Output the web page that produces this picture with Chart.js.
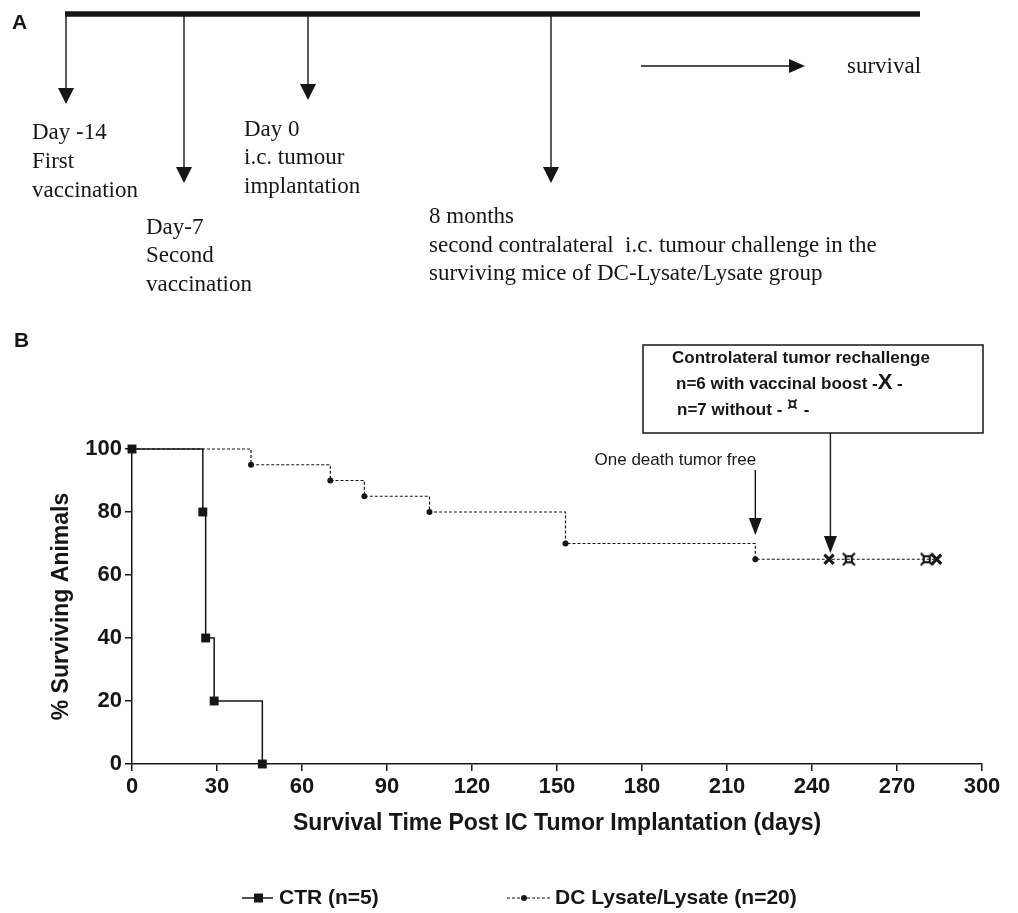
<!DOCTYPE html>
<html lang="en">
<head>
    <meta charset="UTF-8">
    <title>Survival</title>
    <script src="https://cdn.jsdelivr.net/npm/chart.js"></script>
    <style>
        body { margin: 0; background: #fff; }
    </style>
</head>
<body>
    <canvas id="myChart" width="1018" height="913"></canvas>
    <script>
            // Kaplan-Meier data
            const ctrDays = [0, 25, 26, 29, 46];
            const ctrSurv = [100, 80, 40, 20, 0];
            const dcDays = [0, 42, 70, 82, 105, 153, 220, 284];
            const dcSurv = [100, 95, 90, 85, 80, 70, 65, 65];
            const dcRadius = [3, 3, 3, 3, 3, 3, 3, 0];
            const boostDays = [246, 284];
            const boostSurv = [65, 65];
            const noBoostDays = [253, 280.5];
            const noBoostSurv = [65, 65];
            const strayDays = [-2.8];
            const straySurv = [53.4];
            const xTicks = [0, 30, 60, 90, 120, 150, 180, 210, 240, 270, 300];
            const yTicks = [0, 20, 40, 60, 80, 100];
            const deathDay = 220;
            const rechallengeDay = 246.5;

            const ink = '#161616';
            const sans = '"Liberation Sans", Arial, sans-serif';
            const serif = '"Liberation Serif", "Times New Roman", serif';

            function pts(xs, ys) {
                return xs.map((x, i) => ({ x: x, y: ys[i] }));
            }

            // small "¤" shaped marker
            function currencyMark() {
                const c = document.createElement('canvas');
                c.width = 14; c.height = 14;
                const g = c.getContext('2d');
                g.strokeStyle = ink;
                g.lineWidth = 2.2;
                g.strokeRect(4, 4, 6, 6);
                g.beginPath();
                g.moveTo(1, 1); g.lineTo(4, 4);
                g.moveTo(13, 1); g.lineTo(10, 4);
                g.moveTo(1, 13); g.lineTo(4, 10);
                g.moveTo(13, 13); g.lineTo(10, 10);
                g.stroke();
                return c;
            }

            function arrowDown(ctx, x, y0, y1, head, half) {
                ctx.beginPath();
                ctx.moveTo(x, y0);
                ctx.lineTo(x, y1 - head + 1);
                ctx.stroke();
                ctx.beginPath();
                ctx.moveTo(x - half, y1 - head);
                ctx.lineTo(x + half, y1 - head);
                ctx.lineTo(x, y1);
                ctx.closePath();
                ctx.fill();
            }

            const extras = {
                id: 'extras',
                afterDraw(chart) {
                    const ctx = chart.ctx;
                    const xs = chart.scales.x;
                    ctx.save();
                    ctx.fillStyle = ink;
                    ctx.strokeStyle = ink;
                    ctx.textBaseline = 'middle';

                    // ---- panel A : timeline
                    ctx.font = 'bold 21px ' + sans;
                    ctx.fillText('A', 12, 23);
                    ctx.fillText('B', 14, 341);

                    ctx.lineWidth = 5.5;
                    ctx.beginPath();
                    ctx.moveTo(65, 14);
                    ctx.lineTo(920, 14);
                    ctx.stroke();

                    ctx.lineWidth = 1.4;
                    arrowDown(ctx, 66, 14, 104, 16, 8);
                    arrowDown(ctx, 184, 14, 183, 16, 8);
                    arrowDown(ctx, 308, 14, 100, 16, 8);
                    arrowDown(ctx, 551, 14, 183, 16, 8);

                    ctx.beginPath();
                    ctx.moveTo(641, 66);
                    ctx.lineTo(790, 66);
                    ctx.stroke();
                    ctx.beginPath();
                    ctx.moveTo(789, 59);
                    ctx.lineTo(805, 66);
                    ctx.lineTo(789, 73);
                    ctx.closePath();
                    ctx.fill();

                    ctx.font = '23px ' + serif;
                    ctx.fillText('survival', 847, 67);
                    const notes = [
                        [32, 133, 'Day -14'], [32, 162, 'First'], [32, 191, 'vaccination'],
                        [146, 228, 'Day-7'], [146, 256, 'Second'], [146, 285, 'vaccination'],
                        [244, 130, 'Day 0'], [244, 158, 'i.c. tumour'], [244, 187, 'implantation'],
                        [429, 217, '8 months'],
                        [429, 246, 'second contralateral  i.c. tumour challenge in the'],
                        [429, 274, 'surviving mice of DC-Lysate/Lysate group']
                    ];
                    notes.forEach(n => ctx.fillText(n[2], n[0], n[1]));

                    // ---- panel B : annotations
                    const dx = xs.getPixelForValue(deathDay);
                    ctx.lineWidth = 1.4;
                    arrowDown(ctx, dx, 470, 535, 17, 6.5);
                    ctx.font = '17px ' + sans;
                    ctx.textAlign = 'center';
                    ctx.fillText('One death tumor free', dx - 80, 460);

                    ctx.lineWidth = 1.5;
                    ctx.strokeRect(643, 345, 340, 88);
                    const rx = xs.getPixelForValue(rechallengeDay);
                    ctx.lineWidth = 1.4;
                    arrowDown(ctx, rx, 433, 553, 17, 6.5);

                    ctx.textAlign = 'left';
                    ctx.font = 'bold 17px ' + sans;
                    ctx.fillText('Controlateral tumor rechallenge', 672, 358);
                    let t = 'n=6 with vaccinal boost -';
                    ctx.fillText(t, 676, 384);
                    let w = ctx.measureText(t).width;
                    ctx.font = 'bold 22px ' + sans;
                    ctx.fillText('X', 676 + w, 383);
                    let w2 = ctx.measureText('X').width;
                    ctx.font = 'bold 17px ' + sans;
                    ctx.fillText(' -', 676 + w + w2, 384);
                    t = 'n=7 without - ';
                    ctx.fillText(t, 677, 410);
                    w = ctx.measureText(t).width;
                    ctx.font = 'bold 17px "DejaVu Sans", sans-serif';
                    ctx.fillText('\u00a4', 677 + w, 406);
                    w2 = ctx.measureText('\u00a4 ').width;
                    ctx.font = 'bold 17px ' + sans;
                    ctx.fillText('-', 677 + w + w2, 410);

                    // ---- legend
                    const ly = 898;
                    ctx.lineWidth = 1.5;
                    ctx.setLineDash([]);
                    ctx.beginPath();
                    ctx.moveTo(242, ly); ctx.lineTo(273, ly);
                    ctx.stroke();
                    ctx.fillRect(254, ly - 4.5, 9, 9);
                    ctx.setLineDash([3, 2]);
                    ctx.lineWidth = 1.2;
                    ctx.beginPath();
                    ctx.moveTo(507, ly); ctx.lineTo(551, ly);
                    ctx.stroke();
                    ctx.setLineDash([]);
                    ctx.beginPath();
                    ctx.arc(524, ly, 3, 0, Math.PI * 2);
                    ctx.fill();
                    ctx.font = 'bold 21px ' + sans;
                    ctx.fillText('CTR (n=5)', 279, ly);
                    ctx.fillText('DC Lysate/Lysate (n=20)', 555, ly);

                    ctx.restore();
                }
            };

            const ctx = document.getElementById('myChart').getContext('2d');
            const myChart = new Chart(ctx, {
                type: 'scatter',
                data: {
                    datasets: [
                        {
                            label: 'CTR (n=5)',
                            data: pts(ctrDays, ctrSurv),
                            showLine: true,
                            stepped: 'before',
                            borderColor: ink,
                            backgroundColor: ink,
                            borderWidth: 1.5,
                            pointStyle: 'rect',
                            pointRadius: 6.3,
                            pointBorderWidth: 0,
                            clip: false
                        },
                        {
                            label: 'DC Lysate/Lysate (n=20)',
                            data: pts(dcDays, dcSurv),
                            showLine: true,
                            stepped: 'before',
                            borderColor: ink,
                            backgroundColor: ink,
                            borderWidth: 1.2,
                            borderDash: [3, 2],
                            pointRadius: dcRadius,
                            pointBorderWidth: 0,
                            clip: false
                        },
                        {
                            label: 'with boost',
                            data: pts(boostDays, boostSurv),
                            pointStyle: 'crossRot',
                            pointRadius: 6.5,
                            borderColor: ink,
                            pointBorderWidth: 3,
                            clip: false
                        },
                        {
                            label: 'without',
                            data: pts(noBoostDays, noBoostSurv),
                            pointStyle: currencyMark(),
                            clip: false
                        },
                        {
                            label: 'stray',
                            data: pts(strayDays, straySurv),
                            pointRadius: 2.5,
                            backgroundColor: ink,
                            pointBorderWidth: 0,
                            clip: false
                        }
                    ]
                },
                options: {
                    responsive: false,
                    animation: false,
                    layout: {
                        padding: { left: 0, right: 36, top: 449, bottom: 76 }
                    },
                    scales: {
                        x: {
                            type: 'linear',
                            min: 0,
                            max: 300,
                            afterBuildTicks: (s) => { s.ticks = xTicks.map(v => ({ value: v })); },
                            afterFit: (s) => { s.height = 73; },
                            grid: { drawOnChartArea: false, drawTicks: true, tickLength: 7, color: ink, lineWidth: 1.5 },
                            border: { display: true, color: ink, width: 1.5 },
                            ticks: {
                                padding: 3,
                                color: ink,
                                maxRotation: 0,
                                font: { family: sans, size: 22, weight: 'bold' }
                            },
                            title: {
                                display: true,
                                text: 'Survival Time Post IC Tumor Implantation (days)',
                                color: ink,
                                padding: 0,
                                font: { family: sans, size: 23, weight: 'bold', lineHeight: 1.2 }
                            }
                        },
                        y: {
                            min: 0,
                            max: 100,
                            afterBuildTicks: (s) => { s.ticks = yTicks.map(v => ({ value: v })); },
                            afterFit: (s) => { s.width = 132; },
                            grid: { drawOnChartArea: false, drawTicks: true, tickLength: 7, color: ink, lineWidth: 1.5 },
                            border: { display: true, color: ink, width: 1.5 },
                            ticks: {
                                padding: 3,
                                color: ink,
                                font: { family: sans, size: 22, weight: 'bold' }
                            },
                            title: {
                                display: true,
                                text: '% Surviving Animals',
                                color: ink,
                                padding: { top: 48, bottom: 0 },
                                font: { family: sans, size: 23, weight: 'bold', lineHeight: 1.2 }
                            }
                        }
                    },
                    plugins: {
                        legend: { display: false },
                        tooltip: { enabled: false }
                    }
                },
                plugins: [extras]
            });
    </script>
</body>
</html>
